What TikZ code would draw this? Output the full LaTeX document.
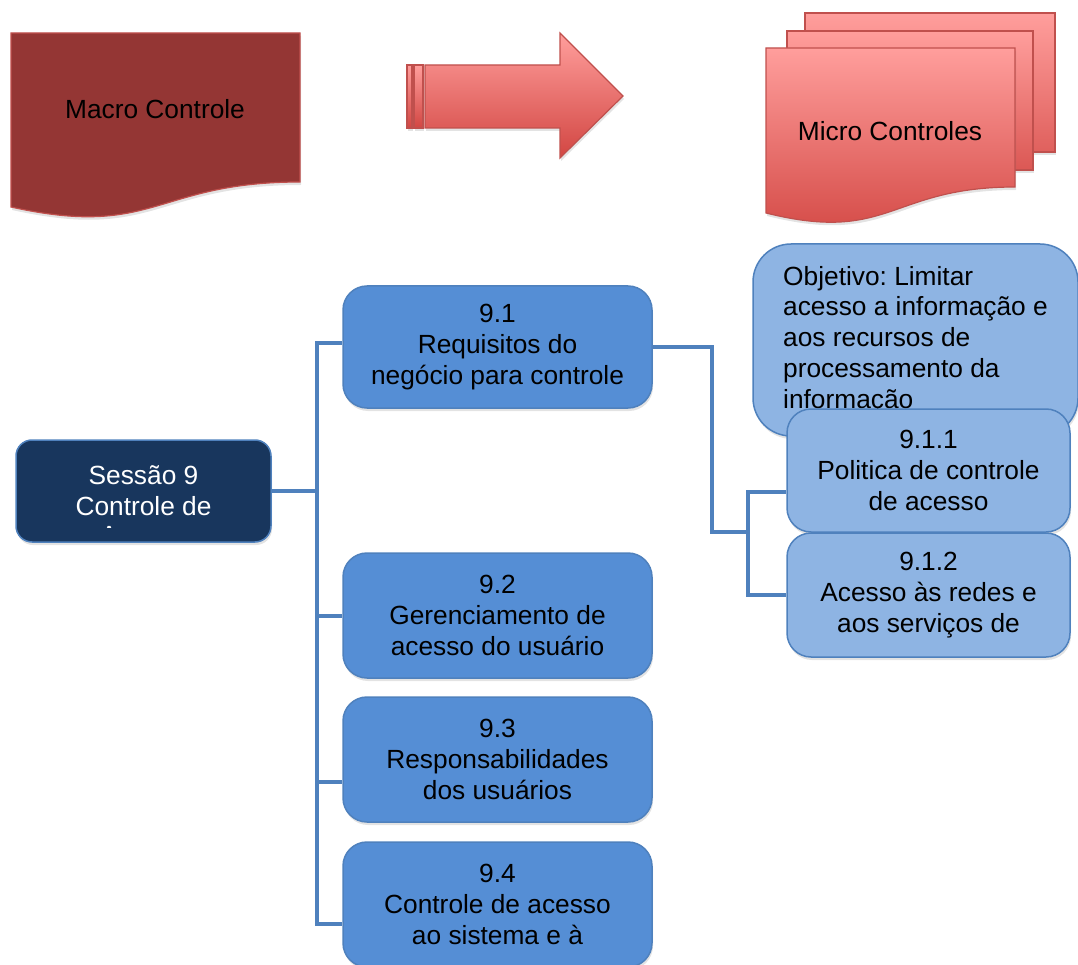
\documentclass[tikz,border=0pt]{standalone}
\usepackage{fontspec}
\setmainfont{Liberation Sans}
\usetikzlibrary{shadows, backgrounds, calc}
\definecolor{macrored}{RGB}{148,54,52}
\definecolor{accentred}{RGB}{192,80,77}
\definecolor{pinktop}{RGB}{255,158,156}
\definecolor{pinkbot}{RGB}{210,70,66}
\definecolor{navyblue}{RGB}{24,54,93}
\definecolor{midblue}{RGB}{85,142,213}
\definecolor{paleblue}{RGB}{142,180,227}
\definecolor{edgeblue}{RGB}{79,129,189}
\frenchspacing

\begin{document}
\begin{tikzpicture}[x=1pt, y=-1pt,
    font=\fontsize{26.3}{30.8}\selectfont,
    softshadow/.style={drop shadow={opacity=0.22, shadow xshift=1pt, shadow yshift=-3pt}},
    docshape/.style={draw=accentred, line width=1.2pt, softshadow},
    sessbox/.style={rectangle, rounded corners=16pt, draw=edgeblue, fill=navyblue, line width=1.5pt, text=white, align=center, minimum width=255pt, minimum height=102pt, softshadow},
    topicbox/.style={rectangle, rounded corners=24pt, draw=edgeblue, fill=midblue, line width=1.5pt, align=center, minimum width=309pt, minimum height=125pt, softshadow},
    subbox/.style={rectangle, rounded corners=24pt, draw=edgeblue, fill=paleblue, line width=1.5pt, align=center, minimum width=283pt, minimum height=124pt, softshadow},
    goalbox/.style={rectangle, rounded corners=38pt, draw=edgeblue, fill=paleblue, line width=1.5pt, align=left, minimum width=325pt, minimum height=192pt, softshadow},
    link/.style={draw=edgeblue, line width=4pt}]

    \useasboundingbox (0,0) rectangle (1078,965);

    % Macro / Micro
    \draw[docshape, fill=macrored] (11,33) -- (300,33) -- (300,182)
        .. controls (155,182) and (155,239) .. (11,207) -- cycle;
    \node (macro) at (155,109) {Macro Controle};

    \path[docshape, top color=pinktop, bottom color=pinkbot] (407,65) rectangle (412,128);
    \path[docshape, top color=pinktop, bottom color=pinkbot] (414,65) rectangle (423,128);
    \path[docshape, top color=pinktop, bottom color=pinkbot] (425,65) -- (560,65) -- (560,33)
        -- (623,96) -- (560,158) -- (560,128) -- (425,128) -- cycle;

    \path[docshape, top color=pinktop, bottom color=pinkbot!70!pinktop] (805,13) rectangle (1055,152);
    \path[docshape, top color=pinktop, bottom color=pinkbot!80!pinktop] (787,31) rectangle (1033,170);
    \path[docshape, top color=pinktop, bottom color=pinkbot] (766,48) -- (1015,48) -- (1015,187)
        .. controls (890,187) and (890,244) .. (766,213) -- cycle;
    \node (micro) at (890,131) {Micro Controles};

    % Tree
    \node[sessbox] (sessao) at (143.5,491) {Sessão 9\\Controle de};
    \begin{scope}
        \clip (16,440) rectangle (271,527);
        \node[anchor=base, text=white] (sessaoCut) at (143.5,544.5) {Acesso};
    \end{scope}

    \node[topicbox, minimum height=122pt] (s91) at (497.5,347) {9.1\\Requisitos do\\negócio para controle};
    \node[topicbox] (s92) at (497.5,615.5) {9.2\\Gerenciamento de\\acesso do usuário};
    \node[topicbox] (s93) at (497.5,759.5) {9.3\\Responsabilidades\\dos usuários};
    \node[topicbox] (s94) at (497.5,904.5) {9.4\\Controle de acesso\\ao sistema e à};

    \node[goalbox] (objetivo) at (915.5,340) {Objetivo: Limitar\\acesso a informação e\\aos recursos de\\processamento da\\informação};
    \node[subbox, minimum height=123pt] (s911) at (928.5,470.5) {9.1.1\\Politica de controle\\de acesso};
    \node[subbox] (s912) at (928.5,595) {9.1.2\\Acesso às redes e\\aos serviços de};

    % Links
    \begin{pgfonlayer}{background}
        \coordinate (trunk) at (317,491);
        \coordinate (bend) at (712,532);
        \coordinate (split) at (748,532);
        \draw[link] ([xshift=-8pt]sessao.east) -- (trunk);
        \draw[link] (trunk) |- ([yshift=4pt]s91.west);
        \draw[link] (trunk) |- (s92.west);
        \draw[link] (trunk) |- ([yshift=-22.5pt]s93.west);
        \draw[link] (trunk) |- ([yshift=-19.5pt]s94.west);
        \draw[link] (s91.east) -| (bend) -- (split);
        \draw[link] (split) |- ([yshift=-21.5pt]s911.west);
        \draw[link] (split) |- (s912.west);
    \end{pgfonlayer}
\end{tikzpicture}
\end{document}
